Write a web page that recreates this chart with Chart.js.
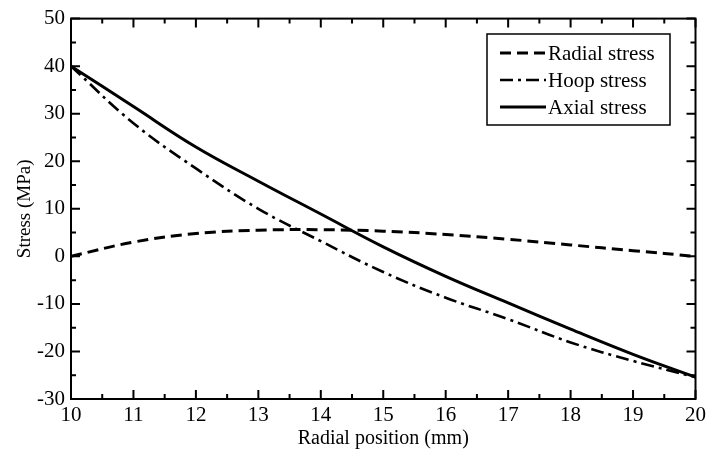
<!DOCTYPE html>
<html>
<head>
<meta charset="utf-8">
<script src="https://cdn.jsdelivr.net/npm/chart.js@4/dist/chart.umd.min.js"></script>
<style>
  body { margin: 0; background: #fff; }
  #wrap { width: 710px; height: 455px; }
</style>
</head>
<body>
<div id="wrap"><canvas id="stressChart" width="710" height="455"></canvas></div>
<script>
// radial positions (mm)
const positions = [10, 11, 12, 13, 14, 15, 16, 17, 18, 19, 20];
// stresses (MPa)
const radialStress = [0, 3.0, 4.8, 5.5, 5.6, 5.3, 4.6, 3.6, 2.4, 1.2, 0];
const hoopStress = [40, 28, 18.5, 10.0, 3.2, -3.3, -8.7, -13.2, -18.1, -22.0, -25.4];
const axialStress = [40, 31.5, 23, 15.8, 8.9, 2.0, -4.2, -9.8, -15.3, -20.6, -25.4];
const seriesLabels = ['Radial stress', 'Hoop stress', 'Axial stress'];

const FONT = '"Liberation Serif", "Times New Roman", serif';

function toPoints(vals) {
    return positions.map((x, i) => ({ x: x, y: vals[i] }));
}

// frame + inward ticks on all four sides, plus the boxed legend
const framePlugin = {
    id: 'frame',
    afterDraw(chart) {
        const { ctx, chartArea: a, scales } = chart;
        const xs = scales.x, ys = scales.y;
        ctx.save();
        ctx.strokeStyle = '#000';
        ctx.lineWidth = 2;
        ctx.strokeRect(a.left, a.top, a.right - a.left, a.bottom - a.top);

        ctx.beginPath();
        for (let v = 10; v <= 20.001; v += 0.5) {
            const px = xs.getPixelForValue(v);
            const len = Math.abs(v - Math.round(v)) < 0.01 ? 9 : 5;
            ctx.moveTo(px, a.bottom); ctx.lineTo(px, a.bottom - len);
            ctx.moveTo(px, a.top); ctx.lineTo(px, a.top + len);
        }
        for (let v = -30; v <= 50.001; v += 5) {
            const py = ys.getPixelForValue(v);
            const len = v % 10 === 0 ? 9 : 5;
            ctx.moveTo(a.left, py); ctx.lineTo(a.left + len, py);
            ctx.moveTo(a.right, py); ctx.lineTo(a.right - len, py);
        }
        ctx.stroke();

        // legend box
        const bx = 487, by = 34, bw = 183, bh = 91;
        ctx.lineWidth = 1.5;
        ctx.strokeRect(bx, by, bw, bh);
        ctx.font = '21px ' + FONT;
        ctx.fillStyle = '#000';
        ctx.textBaseline = 'middle';
        chart.data.datasets.forEach((ds, i) => {
            const y = by + 19 + i * 27;
            ctx.beginPath();
            ctx.lineWidth = ds.borderWidth;
            ctx.setLineDash(ds.borderDash || []);
            ctx.moveTo(500, y);
            ctx.lineTo(546, y);
            ctx.stroke();
            ctx.setLineDash([]);
            ctx.fillText(ds.label, 548, y + 1);
        });
        ctx.restore();
    }
};

const ctx = document.getElementById('stressChart').getContext('2d');
const chart = new Chart(ctx, {
    type: 'line',
    data: {
        datasets: [
            {
                label: seriesLabels[0],
                data: toPoints(radialStress),
                borderColor: '#000',
                borderWidth: 3,
                borderDash: [11, 6],
                pointRadius: 0,
                tension: 0.4,
                fill: false
            },
            {
                label: seriesLabels[1],
                data: toPoints(hoopStress),
                borderColor: '#000',
                borderWidth: 2.6,
                borderDash: [13, 5, 3, 5],
                pointRadius: 0,
                tension: 0.4,
                fill: false
            },
            {
                label: seriesLabels[2],
                data: toPoints(axialStress),
                borderColor: '#000',
                borderWidth: 3,
                pointRadius: 0,
                tension: 0.4,
                fill: false
            }
        ]
    },
    options: {
        responsive: false,
        animation: false,
        events: [],
        layout: { padding: { left: 0, top: 14, right: 12, bottom: 0 } },
        plugins: {
            legend: { display: false },
            tooltip: { enabled: false }
        },
        scales: {
            x: {
                type: 'linear',
                min: 10,
                max: 20,
                grid: { display: false, drawTicks: false },
                border: { display: false },
                ticks: {
                    stepSize: 1,
                    padding: 4,
                    color: '#000',
                    font: { family: FONT, size: 21 }
                },
                title: {
                    display: true,
                    text: 'Radial position (mm)',
                    color: '#000',
                    font: { family: FONT, size: 20 },
                    padding: { top: 0 }
                },
                afterFit(scale) { scale.height = 56; }
            },
            y: {
                min: -30,
                max: 50,
                grid: { display: false, drawTicks: false },
                border: { display: false },
                ticks: {
                    stepSize: 10,
                    padding: 6,
                    color: '#000',
                    font: { family: FONT, size: 21 }
                },
                title: {
                    display: true,
                    text: 'Stress (MPa)',
                    color: '#000',
                    font: { family: FONT, size: 19 },
                    padding: { top: 14, bottom: 0 }
                },
                afterFit(scale) { scale.width = 71; }
            }
        }
    },
    plugins: [framePlugin]
});
</script>
</body>
</html>
